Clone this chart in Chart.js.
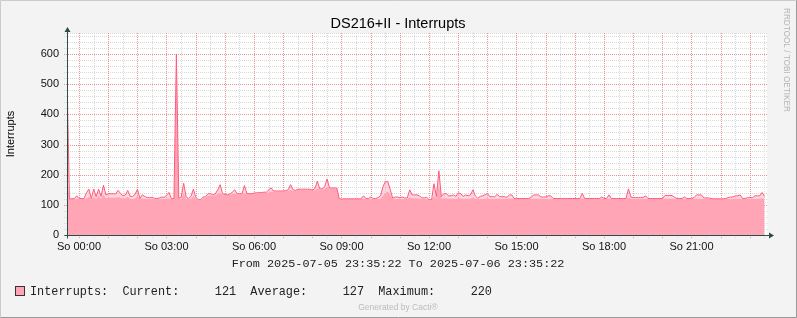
<!DOCTYPE html>
<html>
<head>
<meta charset="utf-8">
<script src="https://cdn.jsdelivr.net/npm/chart.js@4/dist/chart.umd.min.js"></script>
<style>
  html, body { margin: 0; padding: 0; background: #f3f3f3; }
  canvas { display: block; }
</style>
</head>
<body>
<canvas id="graph" width="797" height="318"></canvas>
<script>
// Samples every 5 minutes, starting 2025-07-05 23:35:22
const stepHours = 5 / 60;
const firstMidnight = 24.633 / 60; // 00:00 comes 24m38s after the start

// Maximum per sample (line)
const maxValues = [
  530, 120, 120, 121, 130, 121, 121, 121, 140, 152, 121, 152,
  127, 152, 128, 165, 133, 137, 137, 137, 136, 148, 138, 130,
  133, 148, 128, 128, 135, 152, 121, 133, 128, 124, 124, 124,
  122, 121, 123, 126, 125, 133, 141, 120, 121, 600, 121, 126,
  172, 126, 121, 128, 152, 125, 117, 117, 126, 127, 137, 137,
  133, 136, 150, 167, 137, 135, 133, 136, 142, 150, 137, 137,
  137, 164, 138, 137, 137, 139, 140, 140, 141, 142, 142, 150,
  156, 146, 146, 146, 146, 146, 147, 150, 167, 150, 148, 152,
  152, 152, 152, 152, 152, 148, 155, 178, 153, 153, 160, 186,
  156, 156, 156, 156, 121, 119, 120, 120, 120, 120, 120, 120,
  120, 120, 130, 121, 121, 126, 121, 121, 124, 130, 160, 177,
  177, 150, 122, 126, 126, 123, 126, 123, 123, 150, 133, 133,
  133, 130, 123, 123, 125, 117, 117, 170, 127, 213, 127, 137,
  137, 130, 130, 133, 128, 140, 137, 128, 133, 130, 133, 150,
  130, 122, 128, 130, 133, 138, 127, 127, 127, 135, 127, 127,
  127, 125, 133, 133, 121, 121, 121, 121, 121, 121, 121, 125,
  133, 133, 133, 126, 126, 126, 130, 130, 121, 121, 121, 121,
  121, 121, 121, 121, 121, 121, 121, 121, 138, 121, 121, 121,
  121, 121, 121, 121, 126, 121, 121, 133, 121, 121, 121, 121,
  121, 121, 121, 153, 126, 124, 124, 124, 124, 124, 130, 121,
  121, 121, 121, 121, 121, 121, 131, 131, 131, 131, 125, 121,
  121, 121, 126, 121, 121, 121, 124, 133, 133, 133, 123, 123,
  123, 121, 120, 120, 120, 120, 120, 121, 124, 126, 126, 130,
  130, 133, 121, 121, 124, 124, 124, 130, 130, 130, 141, 128
];

// Average per sample (area)
const avgValues = [
  208, 119, 119, 119, 122, 119, 119, 119, 122, 128, 119, 125,
  120, 130, 120, 135, 122, 124, 124, 124, 124, 126, 124, 122,
  122, 128, 120, 120, 122, 130, 119, 122, 120, 120, 120, 120,
  119, 119, 119, 120, 120, 121, 122, 119, 119, 560, 120, 120,
  140, 120, 119, 120, 130, 120, 115, 115, 122, 124, 130, 132,
  130, 132, 137, 140, 134, 133, 132, 134, 136, 138, 135, 135,
  135, 140, 136, 136, 136, 137, 138, 138, 139, 140, 140, 142,
  144, 144, 144, 144, 145, 145, 145, 146, 150, 146, 147, 150,
  150, 150, 150, 150, 150, 147, 149, 155, 151, 151, 153, 160,
  154, 154, 154, 154, 119, 118, 119, 119, 119, 119, 119, 119,
  119, 119, 121, 119, 119, 120, 119, 119, 120, 121, 130, 140,
  144, 135, 120, 120, 120, 120, 120, 120, 120, 125, 122, 122,
  122, 121, 120, 120, 120, 115, 115, 130, 121, 170, 121, 122,
  122, 121, 121, 121, 120, 123, 122, 120, 121, 121, 121, 124,
  121, 119, 120, 120, 121, 122, 120, 120, 120, 121, 120, 120,
  120, 120, 121, 121, 119, 119, 119, 119, 119, 119, 119, 120,
  121, 121, 121, 120, 120, 120, 120, 120, 119, 119, 119, 119,
  119, 119, 119, 119, 119, 119, 119, 119, 122, 119, 119, 119,
  119, 119, 119, 119, 120, 119, 119, 121, 119, 119, 119, 119,
  119, 119, 119, 125, 120, 120, 120, 120, 120, 120, 120, 119,
  119, 119, 119, 119, 119, 119, 121, 121, 121, 121, 120, 119,
  119, 119, 120, 119, 119, 119, 120, 121, 121, 121, 120, 120,
  120, 119, 119, 119, 119, 119, 119, 119, 120, 120, 120, 121,
  121, 121, 119, 119, 120, 120, 120, 121, 121, 121, 122, 121
];

const timeLabels = ['So 00:00', 'So 03:00', 'So 06:00', 'So 09:00',
                    'So 12:00', 'So 15:00', 'So 18:00', 'So 21:00'];
const yTop = 670;
const legendText = 'Interrupts:  Current:     121  Average:     127  Maximum:     220';

const lineColor = '#ff5a7c';
const areaColor = '#ffa5b6';
const axisColor = '#2c4d43';
const majorGrid = '#ec9494';
const minorGrid = '#d9d9d9';

const toPoints = arr => arr.map((v, i) => ({ x: i * stepHours, y: v }));

// dotted rrdtool grid, placed through the chart scales
const rrdGrid = {
  id: 'rrdGrid',
  beforeDatasetsDraw(chart) {
    const { ctx, chartArea: a, scales } = chart;
    ctx.save();
    ctx.lineWidth = 1;
    ctx.setLineDash([1, 1]);
    // minor lines first, major lines on top
    [false, true].forEach(major => {
      scales.y.ticks.forEach(t => {
        if ((t.value % 100 === 0) !== major) return;
        const y = Math.round(scales.y.getPixelForValue(t.value)) + 0.5;
        ctx.strokeStyle = major ? majorGrid : minorGrid;
        ctx.beginPath();
        ctx.moveTo(a.left - 3, y);
        ctx.lineTo(a.right, y);
        ctx.stroke();
      });
      scales.x.ticks.forEach((t, i) => {
        if ((i % 2 === 0) !== major) return;
        const x = Math.round(scales.x.getPixelForValue(t.value)) + 0.5;
        ctx.strokeStyle = major ? majorGrid : minorGrid;
        ctx.beginPath();
        ctx.moveTo(x, a.top);
        ctx.lineTo(x, a.bottom + 3);
        ctx.stroke();
      });
    });
    ctx.restore();
  }
};

// background, frame and all the rrdtool text
const rrdDecor = {
  id: 'rrdDecor',
  beforeDraw(chart) {
    const { ctx, chartArea: a } = chart;
    ctx.save();
    ctx.fillStyle = '#f3f3f3';
    ctx.fillRect(0, 0, chart.width, chart.height);
    ctx.fillStyle = '#ffffff';
    ctx.fillRect(a.left, a.top, a.right - a.left, a.bottom - a.top);
    ctx.restore();
  },
  afterDatasetsDraw(chart) {
    const { ctx, chartArea: a } = chart;
    const x0 = Math.round(a.left) + 0.5;
    const y0 = Math.round(a.bottom) + 0.5;
    ctx.save();
    ctx.strokeStyle = axisColor;
    ctx.fillStyle = axisColor;
    ctx.lineWidth = 1;
    ctx.beginPath();
    ctx.moveTo(x0, y0 + 3);
    ctx.lineTo(x0, a.top - 2);
    ctx.moveTo(x0 - 3, y0);
    ctx.lineTo(a.right + 3, y0);
    ctx.stroke();
    // arrows
    ctx.beginPath();
    ctx.moveTo(x0, a.top - 6);
    ctx.lineTo(x0 - 3, a.top - 1);
    ctx.lineTo(x0 + 3, a.top - 1);
    ctx.closePath();
    ctx.fill();
    ctx.beginPath();
    ctx.moveTo(a.right + 7, y0);
    ctx.lineTo(a.right + 2, y0 - 3);
    ctx.lineTo(a.right + 2, y0 + 3);
    ctx.closePath();
    ctx.fill();
    ctx.restore();
  },
  afterDraw(chart) {
    const { ctx } = chart;
    const w = chart.width, h = chart.height;
    ctx.save();

    // title
    ctx.fillStyle = '#000';
    ctx.font = '14.5px "Liberation Sans", Arial, sans-serif';
    ctx.textAlign = 'center';
    ctx.textBaseline = 'alphabetic';
    ctx.fillText('DS216+II - Interrupts', 398, 28);

    // vertical label
    ctx.save();
    ctx.translate(11, 134);
    ctx.rotate(-Math.PI / 2);
    ctx.font = '11px "Liberation Sans", Arial, sans-serif';
    ctx.textBaseline = 'middle';
    ctx.fillText('Interrupts', 0, 0);
    ctx.restore();

    // time range
    ctx.fillStyle = '#222';
    ctx.font = '11.8px "Liberation Mono", monospace';
    ctx.textAlign = 'center';
    ctx.fillText('From 2025-07-05 23:35:22 To 2025-07-06 23:35:22', 398, 267);

    // legend
    ctx.fillStyle = areaColor;
    ctx.fillRect(15.5, 286.5, 9, 9);
    ctx.strokeStyle = '#333';
    ctx.lineWidth = 1;
    ctx.strokeRect(15.5, 286.5, 9, 9);
    ctx.fillStyle = '#222';
    ctx.textAlign = 'left';
    ctx.font = '11.85px "Liberation Mono", monospace';
    ctx.fillText(legendText, 30, 294.5);

    // footer
    ctx.fillStyle = '#bbbbbb';
    ctx.font = '8.5px "Liberation Sans", Arial, sans-serif';
    ctx.textAlign = 'center';
    ctx.fillText('Generated by Cacti®', 398, 310);

    // watermark on the right edge
    ctx.save();
    ctx.translate(786.5, 8);
    ctx.rotate(Math.PI / 2);
    ctx.fillStyle = '#b5b5b5';
    ctx.font = '8.2px "Liberation Sans", Arial, sans-serif';
    ctx.textAlign = 'left';
    ctx.textBaseline = 'middle';
    ctx.fillText('RRDTOOL / TOBI OETIKER', 0, 0);
    ctx.restore();

    // 3d frame
    ctx.strokeStyle = '#cbcbcb';
    ctx.beginPath();
    ctx.moveTo(0.5, h - 0.5);
    ctx.lineTo(0.5, 0.5);
    ctx.lineTo(w - 0.5, 0.5);
    ctx.stroke();
    ctx.strokeStyle = '#999999';
    ctx.beginPath();
    ctx.moveTo(w - 0.5, 0.5);
    ctx.lineTo(w - 0.5, h - 0.5);
    ctx.lineTo(0.5, h - 0.5);
    ctx.stroke();
    ctx.restore();
  }
};

new Chart(document.getElementById('graph'), {
  type: 'line',
  data: {
    datasets: [
      {
        label: 'Maximum',
        data: toPoints(maxValues),
        borderColor: lineColor,
        borderWidth: 1,
        backgroundColor: 'rgba(255, 165, 182, 0.45)',
        fill: 1,
        pointRadius: 0,
        tension: 0
      },
      {
        label: 'Interrupts',
        data: toPoints(avgValues),
        borderWidth: 0,
        borderColor: 'rgba(0,0,0,0)',
        backgroundColor: areaColor,
        fill: 'origin',
        pointRadius: 0,
        tension: 0
      }
    ]
  },
  options: {
    responsive: false,
    animation: false,
    devicePixelRatio: 1,
    layout: { padding: { top: 33, right: 30, bottom: 0, left: 0 } },
    plugins: {
      legend: { display: false },
      tooltip: { enabled: false }
    },
    scales: {
      x: {
        type: 'linear',
        min: 0,
        max: 24,
        afterFit(scale) { scale.height = 83; },
        afterBuildTicks(scale) {
          const ticks = [];
          for (let k = 0; firstMidnight + k * 0.5 < 24; k++) {
            ticks.push({ value: firstMidnight + k * 0.5 });
          }
          scale.ticks = ticks;
        },
        grid: { display: false, drawTicks: true, tickLength: 3 },
        border: { display: false },
        ticks: {
          autoSkip: false,
          maxRotation: 0,
          padding: 2,
          color: '#111',
          font: { family: '"Liberation Sans", Arial, sans-serif', size: 11 },
          callback: (v, i) => (i % 6 === 0 ? timeLabels[i / 6] : '')
        }
      },
      y: {
        min: 0,
        max: yTop,
        afterFit(scale) { scale.width = 67; },
        afterBuildTicks(scale) {
          const ticks = [];
          for (let v = 0; v < yTop; v += 20) ticks.push({ value: v });
          ticks.push({ value: yTop });
          scale.ticks = ticks;
        },
        grid: { display: false, drawTicks: true, tickLength: 3 },
        border: { display: false },
        ticks: {
          autoSkip: false,
          padding: 5,
          color: '#111',
          font: { family: '"Liberation Sans", Arial, sans-serif', size: 11 },
          callback: v => (v % 100 === 0 ? v : '')
        }
      }
    }
  },
  plugins: [rrdGrid, rrdDecor]
});
</script>
</body>
</html>
